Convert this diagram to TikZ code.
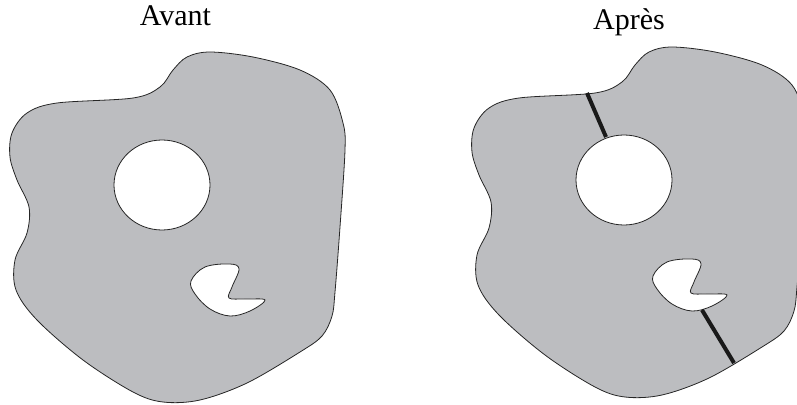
\documentclass[tikz,border=0pt]{standalone}
\usepackage{fontspec}
\setmainfont{Liberation Serif}
\definecolor{cRegion}{HTML}{BCBDC0}

\begin{document}
\begin{tikzpicture}[
    x=1pt, y=-1pt,
    region/.style={fill=cRegion, draw=black!85, line width=0.8pt},
    hole/.style={fill=white, draw=black!85, line width=0.8pt},
    cut/.style={line width=4pt, black!90},
    title/.style={font=\fontsize{30}{36}\selectfont, anchor=base, inner sep=0pt},
]

\useasboundingbox (0,0) rectangle (797,404);
\clip (0,0) rectangle (797,404);

\def\sep{462}

% Titles
\node[title] (avant) at (175.5,26) {Avant};
\node[title] (apres) at (629,30) {Après};

% Domain, before and after
\foreach \dx/\dy in {0/0, \sep/-5} {
  \begin{scope}[shift={(\dx,\dy)}]
    \draw[region] plot[smooth cycle, tension=0.55] coordinates {
      (210,52) (253,57) (300,70) (330,90) (343,123) (345,150) (340,227)
      (335,292) (332,316) (322,336) (300,352) (247,383) (200,400)
      (163,402) (133,392) (83,360) (37,320) (16,290) (15,260) (27,233)
      (29,207) (17,180) (10,157) (12,133) (27,113) (57,103) (133,98)
      (160,87) (173,70) (187,57)};
    \draw[hole] (162,185) ellipse [x radius=48pt, y radius=45pt];
    \draw[hole] plot[smooth cycle, tension=0.6] coordinates {
      (191,281) (205,267) (230,264) (239,269) (232,287) (229,298)
      (245,299) (265,300) (250,311) (230,316) (210,309) (195,294)};
  \end{scope}
}

% Cuts
\begin{scope}[shift={(\sep,-5)}]
  \coordinate (topOut) at (125,98);
  \coordinate (topIn) at (144,142);
  \coordinate (botIn) at (240,315);
  \coordinate (botOut) at (272,368);
  \draw[cut] (topOut) -- (topIn);
  \draw[cut] (botIn) -- (botOut);
\end{scope}

\end{tikzpicture}
\end{document}
